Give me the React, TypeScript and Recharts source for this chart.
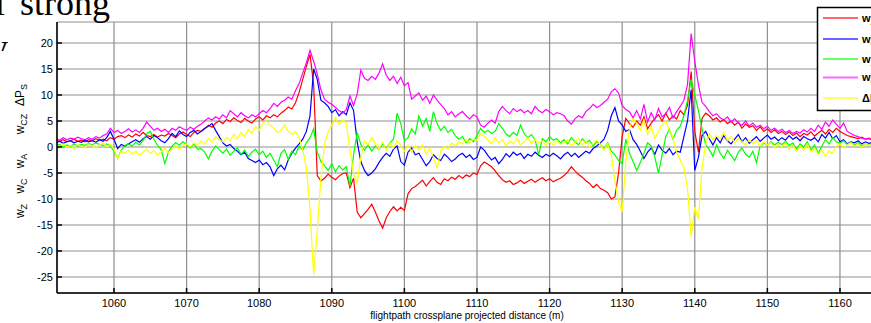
import React from 'react';
import { LineChart, Line, XAxis, YAxis, CartesianGrid } from 'recharts';

// flightpath crossplane projected distance (m), sampled every 0.5 m
const distance = [
  1052, 1052.5, 1053, 1053.5, 1054, 1054.5, 1055, 1055.5, 1056, 1056.5, 1057, 1057.5, 1058, 1058.5, 1059, 1059.5, 1060, 1060.5, 1061, 1061.5,
  1062, 1062.5, 1063, 1063.5, 1064, 1064.5, 1065, 1065.5, 1066, 1066.5, 1067, 1067.5, 1068, 1068.5, 1069, 1069.5, 1070, 1070.5, 1071, 1071.5,
  1072, 1072.5, 1073, 1073.5, 1074, 1074.5, 1075, 1075.5, 1076, 1076.5, 1077, 1077.5, 1078, 1078.5, 1079, 1079.5, 1080, 1080.5, 1081, 1081.5,
  1082, 1082.5, 1083, 1083.5, 1084, 1084.5, 1085, 1085.5, 1086, 1086.5, 1087, 1087.5, 1088, 1088.5, 1089, 1089.5, 1090, 1090.5, 1091, 1091.5,
  1092, 1092.5, 1093, 1093.5, 1094, 1094.5, 1095, 1095.5, 1096, 1096.5, 1097, 1097.5, 1098, 1098.5, 1099, 1099.5, 1100, 1100.5, 1101, 1101.5,
  1102, 1102.5, 1103, 1103.5, 1104, 1104.5, 1105, 1105.5, 1106, 1106.5, 1107, 1107.5, 1108, 1108.5, 1109, 1109.5, 1110, 1110.5, 1111, 1111.5,
  1112, 1112.5, 1113, 1113.5, 1114, 1114.5, 1115, 1115.5, 1116, 1116.5, 1117, 1117.5, 1118, 1118.5, 1119, 1119.5, 1120, 1120.5, 1121, 1121.5,
  1122, 1122.5, 1123, 1123.5, 1124, 1124.5, 1125, 1125.5, 1126, 1126.5, 1127, 1127.5, 1128, 1128.5, 1129, 1129.5, 1130, 1130.5, 1131, 1131.5,
  1132, 1132.5, 1133, 1133.5, 1134, 1134.5, 1135, 1135.5, 1136, 1136.5, 1137, 1137.5, 1138, 1138.5, 1139, 1139.5, 1140, 1140.5, 1141, 1141.5,
  1142, 1142.5, 1143, 1143.5, 1144, 1144.5, 1145, 1145.5, 1146, 1146.5, 1147, 1147.5, 1148, 1148.5, 1149, 1149.5, 1150, 1150.5, 1151, 1151.5,
  1152, 1152.5, 1153, 1153.5, 1154, 1154.5, 1155, 1155.5, 1156, 1156.5, 1157, 1157.5, 1158, 1158.5, 1159, 1159.5, 1160, 1160.5, 1161, 1161.5,
  1162, 1162.5, 1163, 1163.5, 1164, 1164.5,
];

const wZ = [
  1.3, 1.1, 1.4, 1.0, 1.2, 1.5, 1.1, 1.3, 1.0, 1.4, 1.2, 1.6, 1.3, 1.5, 1.2, 1.8, 1.5, 2.0, 2.2, 1.8,
  2.3, 1.9, 2.5, 2.1, 2.8, 2.2, 2.0, 2.4, 1.9, 2.3, 2.1, 2.6, 2.2, 1.8, 2.5, 2.9, 2.4, 2.0, 2.8, 3.2,
  3.0, 3.5, 4.2, 3.8, 4.6, 5.0, 4.5, 5.3, 4.9, 5.6, 5.1, 4.7, 5.5, 5.0, 4.6, 5.4, 5.8, 5.2, 6.0, 5.6,
  6.2, 5.8, 6.5, 7.0, 7.7, 7.3, 8.5, 10.5, 13.0, 15.5, 17.8, 12.0, -5.5, -6.5, -6.0, -5.2, -5.8, -6.3, -5.6, -5.1,
  -5.0, -7.8, -6.0, -12.5, -13.6, -12.8, -12.0, -11.0, -12.5, -14.2, -15.6, -13.6, -12.4, -11.5, -12.3, -11.6, -12.2, -9.0, -8.0, -7.6,
  -7.0, -6.4, -7.5, -6.6, -5.9, -6.8, -7.2, -6.1, -6.5, -5.8, -6.2, -5.5, -6.0, -5.4, -5.7, -5.0, -5.3, -3.6, -2.9, -3.3,
  -3.8, -4.6, -5.5, -6.3, -6.8, -6.5, -7.2, -6.9, -6.4, -7.0, -6.6, -6.2, -6.8, -6.3, -5.9, -6.5, -6.1, -6.7, -6.3, -6.0,
  -5.5, -4.8, -3.8, -4.6, -5.3, -5.8, -6.5, -7.0, -7.8, -7.2, -8.0, -8.3, -8.8, -10.0, -9.6, -5.0, 2.0, 5.5, 4.5, 3.8,
  5.0, 4.2, 5.8, 3.5, 4.6, 5.5, 6.2, 5.0, 6.5, 5.2, 6.0, 5.4, 7.0, 6.2, 8.0, 14.5, 3.0, -1.0, 5.5, 6.5,
  6.0, 5.2, 5.6, 4.8, 5.3, 4.5, 5.0, 4.2, 4.8, 3.6, 4.4, 3.8, 4.1, 3.2, 3.9, 3.0, 3.5, 2.8, 3.3, 2.6,
  3.0, 2.4, 2.9, 2.2, 2.7, 2.0, 2.6, 2.3, 2.9, 2.1, 2.7, 3.2, 2.5, 3.4, 2.8, 3.6, 3.0, 2.6, 2.2, 2.0,
  1.8, 1.6, 1.9, 1.5, 1.7, 1.4,
];

const wC = [
  0.8, 1.1, 0.7, 1.0, 1.2, 0.8, 1.1, 0.9, 1.3, 1.0, 1.2, 0.9, 1.4, 1.1, 1.8, 3.0, 1.5, -0.3, 0.5, 0.2,
  0.6, 1.0, 1.4, 0.9, 1.6, 2.0, 1.5, 2.2, 1.8, 1.2, 0.8, 1.6, 2.6, 2.0, 3.1, 2.4, 2.0, 2.8, 3.2, 2.5,
  3.0, 3.6, 4.0, 4.5, 3.2, 2.0, 0.8, 0.2, 0.5, -0.3, -0.8, -1.5, -1.0, -2.2, -2.6, -3.0, -2.5, -3.4, -3.0, -3.8,
  -5.5, -4.2, -3.5, -4.4, -2.5, -1.2, -0.2, 0.6, 1.5, 3.0, 6.0, 15.0, 13.0, 9.0, 8.5, 7.8, 6.6, 7.2, 6.0, 6.8,
  6.2, 8.5, 7.0, 1.0, -2.8, -4.5, -5.5, -5.0, -4.2, -3.0, -2.0, -1.2, -1.8, -0.4, 0.2, -2.8, -3.5, -1.0, -0.2, -1.5,
  -1.2, -2.4, -3.6, -2.8, -1.5, -2.2, -2.6, -1.4, -2.0, -2.8, -2.3, -1.6, -1.2, -2.0, -1.5, -2.4, -2.0, 0.0, -0.6, -1.6,
  -2.5, -2.0, -3.2, -2.4, -1.3, -1.9, -1.0, -1.6, -1.2, -2.2, -1.4, -1.8, -1.0, -1.6, -2.0, -1.4, -1.8, -1.2, -1.7, -2.3,
  -1.5, -1.0, -1.8, -1.2, -2.0, -1.4, -0.8, -1.2, -0.3, 0.2, 0.8, 1.5, 3.2, 6.0, 7.6, 5.0, 4.2, 3.0, 3.4, 1.4,
  0.5, -0.8, -2.2, -1.0, -0.2, -1.4, 0.4, -0.6, -1.2, -0.3, -1.5, -0.8, -1.0, 2.0, 5.0, 11.0, -4.5, -2.0, 2.2, 3.0,
  1.6, 0.4, 1.8, 0.8, 2.2, 1.2, 0.6, 1.5, 2.4, 1.0, 1.8, 0.7, 1.4, 2.0, 1.1, 1.7, 2.3, 1.5, 1.9, 1.2,
  1.8, 1.3, 2.2, 1.5, 1.9, 1.2, 2.0, 1.6, 1.3, 1.8, 1.0, 2.4, 1.7, 2.8, 1.6, 2.2, 1.0, 1.4, 0.6, 1.0,
  0.8, 1.2, 0.6, 1.0, 0.7, 0.9,
];

const wA = [
  0.2, 0.5, 0.0, 0.4, 0.1, 0.6, 0.2, 0.5, 0.3, 0.7, 0.4, 0.8, 0.5, 0.3, 0.6, 0.2, -0.8, -2.2, -0.6, 0.3,
  0.6, 0.2, 0.9, 0.4, 1.2, 2.6, 3.0, 1.5, 0.3, -0.5, -3.2, -1.0, 0.2, 0.8, 0.4, 1.0, 0.5, -0.2, 0.6, -0.4,
  -0.3, -1.0, -2.3, -0.8, 0.2, -0.5, -1.2, -0.4, -1.6, -0.8, -0.2, -1.4, -0.6, -1.8, -1.0, -0.4, -1.5, -0.8, -2.0, -1.2,
  -2.5, -3.8, -1.2, -0.5, -2.4, -0.8, -1.5, 0.2, -0.6, 0.8, 1.8, 3.5, -1.0, -2.8, -3.6, -4.5, -3.2, -4.8, -3.6, -4.4,
  -3.8, -7.5, -1.5, 2.8, 0.5, -0.6, 0.4, -0.8, 0.2, -0.5, 0.6, -0.2, 0.8, 1.5, 6.5, 4.5, 1.2, 1.8, 3.5, 2.5,
  6.0, 4.0, 5.5, 3.0, 6.8, 4.5, 3.2, 4.0, 2.8, 3.4, 2.2, 1.5, 2.0, 0.8, 1.6, 1.0, 2.2, 3.6, 2.8, 3.2,
  2.6, 3.0, 4.5, 3.6, 2.5, 2.0, 2.8, 2.2, 4.2, 2.6, 1.8, 2.4, 1.4, -1.5, 1.6, 1.0, 2.0, 1.3, 1.6, 0.8,
  1.4, 0.6, 1.8, 1.0, 0.4, 1.6, 0.8, 1.3, 0.2, 1.0, 0.5, -0.4, 0.8, -0.8, -1.5, -2.6, -3.2, 1.5, -1.2, -2.8,
  -4.5, -3.0, -1.2, 0.8, 0.2, -2.0, -5.0, -1.5, 2.0, 3.4, 1.5, 3.2, 4.0, 6.0, 9.0, 13.0, 10.0, 7.0, 3.5, 0.5,
  -0.5, -1.8, 0.4, -1.2, -2.2, -0.6, -1.6, -2.6, -1.0, -0.2, -1.4, -2.0, -0.8, -3.0, 0.2, 0.8, 0.3, 1.0, 0.4, 0.9,
  0.5, 1.1, 0.3, 0.8, -0.4, 0.6, 0.0, 1.0, -0.6, 0.4, -1.2, 0.2, 1.4, 0.6, 1.8, 1.0, 0.7, 1.2, 0.5, 0.9,
  0.4, 0.8, 0.2, 0.6, 0.3, 0.5,
];

const wCZ = [
  1.6, 1.3, 1.8, 1.4, 1.7, 1.5, 1.9, 1.6, 1.4, 1.8, 1.5, 2.0, 1.7, 2.2, 2.5, 3.6, 2.8, 3.2, 2.6, 3.0,
  3.5, 2.9, 3.3, 2.8, 3.6, 4.8, 4.0, 3.2, 3.6, 3.0, 3.4, 2.8, 3.6, 3.2, 3.9, 3.5, 3.2, 3.8, 3.4, 4.0,
  4.4, 5.0, 5.6, 5.2, 5.8, 5.4, 6.2, 5.6, 7.0, 6.4, 5.8, 6.6, 6.0, 5.6, 6.2, 5.8, 6.4, 7.0, 6.6, 7.4,
  8.4, 7.8, 8.6, 9.0, 9.6, 9.2, 10.8, 12.2, 14.2, 16.2, 18.6, 16.5, 14.0, 11.0, 9.2, 8.6, 8.2, 7.6, 7.0, 6.5,
  7.2, 9.8, 8.0, 10.2, 14.8, 13.2, 12.8, 13.6, 13.0, 14.2, 16.0, 13.8, 12.8, 13.6, 12.2, 13.4, 11.8, 12.4, 9.2, 9.8,
  10.4, 9.0, 9.8, 8.4, 10.0, 9.0, 8.2, 7.4, 6.2, 6.8, 5.8, 6.4, 6.8, 6.0, 5.4, 6.2, 5.8, 4.2, 3.8, 4.6,
  5.2, 4.6, 6.8, 7.8, 7.0, 6.4, 7.4, 6.8, 7.2, 6.6, 7.0, 6.4, 7.8, 7.0, 6.6, 7.2, 6.8, 6.2, 6.6, 6.4,
  6.0, 5.0, 4.4, 5.4, 6.0, 5.6, 6.8, 7.4, 8.2, 7.6, 8.0, 8.6, 9.2, 10.6, 11.2, 10.4, 8.0, 7.2, 6.8, 5.6,
  7.0, 5.4, 8.2, 4.8, 6.6, 5.2, 7.4, 5.8, 6.4, 7.6, 5.6, 6.8, 7.8, 9.0, 12.0, 21.8, 16.5, 12.0, 8.6, 7.8,
  6.8, 6.0, 6.4, 5.6, 5.2, 5.8, 4.8, 5.4, 4.6, 4.2, 5.0, 4.0, 4.6, 3.8, 4.2, 3.5, 4.0, 3.2, 3.6, 3.0,
  3.4, 2.8, 3.2, 2.6, 3.0, 2.7, 3.3, 2.9, 3.6, 3.0, 4.2, 3.4, 4.8, 4.0, 5.2, 4.4, 3.6, 4.6, 3.0, 2.6,
  2.2, 2.0, 1.7, 1.5, 1.6, 1.3,
];

const dPS = [
  0.4, -0.2, 0.6, 0.0, 0.3, -0.3, 0.5, 0.1, -0.1, 0.6, 0.2, -0.2, 0.4, 0.8, 0.1, 0.5, -0.4, -2.2, -0.8, -1.2,
  -0.6, -1.4, -0.8, -1.6, -1.0, -0.4, -1.3, -0.7, -1.5, -0.9, -0.3, -1.1, -0.5, 0.2, -0.4, 0.3, 0.6, 0.0, 0.8, 0.4,
  1.2, 0.6, 1.6, 0.9, 2.0, 1.4, 1.0, 1.8, 1.2, 2.4, 1.6, 2.8, 2.0, 3.4, 2.6, 4.0, 3.2, 4.6, 5.0, 4.2,
  3.6, 2.8, 3.2, 4.2, 3.0, 2.4, 3.0, 1.8, -0.5, -4.0, -12.0, -24.5, -16.0, -6.0, 0.5, 3.0, 4.2, 5.6, 4.4, 5.2,
  4.6, -0.5, -5.0, -7.0, -2.0, 1.2, 0.4, 1.8, 0.6, -0.4, 1.0, -0.6, 0.8, -0.2, 1.2, 0.2, -0.8, 0.4, -1.0, 0.3,
  -0.6, 0.4, -1.4, -0.2, -2.0, -4.0, -0.8, 0.2, -0.4, 0.8, 0.2, 1.0, 0.6, 1.4, 0.8, 1.6, 1.2, 2.6, 2.0, 1.4,
  0.6, 1.8, 0.8, 1.4, 0.2, 1.2, 0.6, 1.6, 0.4, 1.0, 1.8, 0.6, 1.4, 0.8, 1.2, 0.2, 1.0, 0.4, 1.2, 0.6,
  0.8, 1.4, 0.2, 1.0, 1.6, 0.4, 1.2, 0.0, 0.8, 1.4, 0.4, -0.6, 0.6, -1.5, -6.5, -10.5, -12.5, -3.0, 3.5, 5.4,
  4.6, 3.2, 5.2, 2.4, 4.0, 1.6, 3.0, 4.4, 5.0, 3.2, 1.8, -1.0, -2.5, -4.0, -8.0, -17.3, -11.5, -14.0, -4.0, 0.5,
  2.6, 1.4, 2.2, 1.6, 2.8, 1.2, 2.0, 0.8, 1.6, 1.0, 0.4, 1.4, 0.6, 1.2, 0.2, 1.0, 0.4, 0.8, -0.2, 0.6,
  0.0, 0.8, -0.4, 0.4, -0.8, 0.2, -0.6, 0.6, -1.0, -0.2, -1.4, -0.6, -1.8, -0.8, -1.2, 0.2, 0.6, -0.2, 0.4, 0.8,
  0.2, 0.6, 0.0, 0.5, 0.3, 0.4,
];

const xTicks = [1060, 1070, 1080, 1090, 1100, 1110, 1120, 1130, 1140, 1150, 1160];
const yTicks = [-25, -20, -15, -10, -5, 0, 5, 10, 15, 20];

const series = [
  { key: 'wZ', color: '#ff0000', main: 'w', sub: 'Z' },
  { key: 'wC', color: '#0000ff', main: 'w', sub: 'C' },
  { key: 'wA', color: '#00ff00', main: 'w', sub: 'A' },
  { key: 'wCZ', color: '#ff00ff', main: 'w', sub: 'CZ' },
  { key: 'dPS', color: '#ffff00', main: '\u0394P', sub: 'S' },
];

const data = distance.map((d, i) => ({ d, wZ: wZ[i], wC: wC[i], wA: wA[i], wCZ: wCZ[i], dPS: dPS[i] }));

const sans = '"Liberation Sans", Arial, Helvetica, sans-serif';
const serif = '"Liberation Serif", "Times New Roman", serif';
const tickStyle = { fontSize: 11, fill: '#000', fontFamily: sans };

// rotated y label pieces, centre along y (bottom to top: wZ, wC, wA, wCZ, ΔPS)
const yLabel = [
  { main: 'w', sub: 'Z', cy: 211 },
  { main: 'w', sub: 'C', cy: 186 },
  { main: 'w', sub: 'A', cy: 161 },
  { main: 'w', sub: 'CZ', cy: 124 },
  { main: '\u0394P', sub: 'S', cy: 95 },
];
const legendRows = [18, 39, 59, 77.5, 98];

export default function App() {
  return (
    <div style={{ position: 'absolute', left: 0, top: 0, width: 871, height: 323, overflow: 'hidden', background: '#fff' }}>
      <LineChart width={880} height={323} data={data} margin={{ top: 22, right: 3, bottom: 0, left: 0 }}>
        <CartesianGrid stroke="#8f8f8f" strokeWidth={1.2} />
        <XAxis
          dataKey="d"
          type="number"
          domain={[1052.15, 1165.1]}
          allowDataOverflow
          ticks={xTicks}
          height={30}
          tickSize={-5}
          tickMargin={11}
          stroke="#000"
          strokeWidth={1.5}
          tick={tickStyle}
        />
        <XAxis
          xAxisId="top"
          orientation="top"
          dataKey="d"
          type="number"
          domain={[1052.15, 1165.1]}
          allowDataOverflow
          ticks={xTicks}
          height={0}
          tickSize={-5}
          stroke="#000"
          strokeWidth={1.5}
          tick={false}
        />
        <YAxis
          type="number"
          domain={[-28.08, 24.04]}
          allowDataOverflow
          ticks={yTicks}
          width={57}
          tickSize={-5}
          tickMargin={9}
          stroke="#000"
          strokeWidth={1.5}
          tick={tickStyle}
        />
        {series.map((s) => (
          <Line
            key={s.key}
            type="linear"
            dataKey={s.key}
            stroke={s.color}
            strokeWidth={1.2}
            dot={false}
            activeDot={false}
            isAnimationActive={false}
          />
        ))}
      </LineChart>

      <svg width={871} height={323} style={{ position: 'absolute', left: 0, top: 0, pointerEvents: 'none' }}>
        <defs>
          <clipPath id="clipY">
            <rect x={0} y={0} width={20} height={51} />
          </clipPath>
        </defs>
        {/* bits of the surrounding page text */}
        <text x={-5} y={15} fontFamily={serif} fontSize={36} fill="#000">l</text>
        <text x={20} y={15} fontFamily={serif} fontSize={36} fill="#000">strong</text>
        <text x={-10} y={59} fontFamily={serif} fontSize={36} fill="#000" clipPath="url(#clipY)">y</text>

        {yLabel.map((p) => (
          <text
            key={p.sub}
            transform={`translate(24, ${p.cy}) rotate(-90)`}
            textAnchor="middle"
            fontFamily={sans}
            fontSize={12}
            fill="#000"
          >
            {p.main}
            <tspan fontSize={9} dy={3}>{p.sub}</tspan>
          </text>
        ))}

        <text x={467} y={319} textAnchor="middle" fontFamily={sans} fontSize={10} fill="#000">
          flightpath crossplane projected distance (m)
        </text>

        <rect x={817.5} y={7.5} width={80} height={103} fill="#fff" stroke="#000" strokeWidth={1.5} />
        {series.map((s, i) => (
          <g key={s.key}>
            <line x1={823} x2={858} y1={legendRows[i]} y2={legendRows[i]} stroke={s.color} strokeOpacity={0.6} strokeWidth={2} />
            <text x={862} y={legendRows[i] + 3.5} fontFamily={sans} fontSize={11} fontWeight={700} fill="#000">
              {s.main}
              <tspan fontSize={8} dy={3}>{s.sub}</tspan>
            </text>
          </g>
        ))}
      </svg>
    </div>
  );
}
